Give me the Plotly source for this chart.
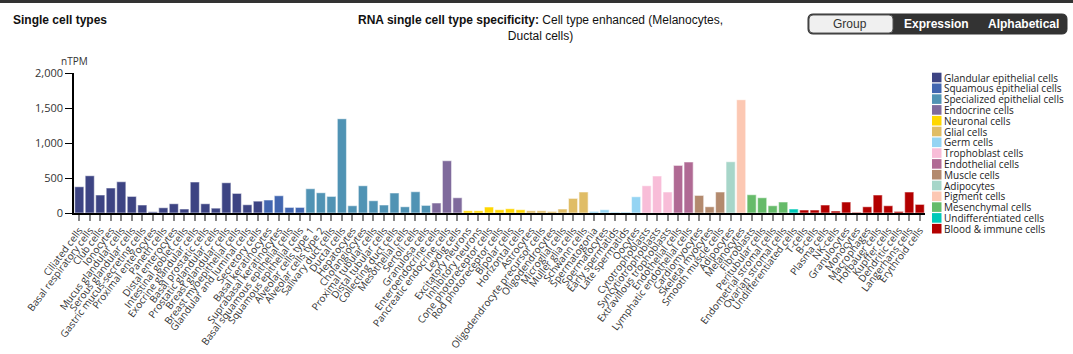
import plotly.graph_objects as go

# ---------------- data ----------------
group_names = [
    "Glandular epithelial cells", "Squamous epithelial cells", "Specialized epithelial cells",
    "Endocrine cells", "Neuronal cells", "Glial cells", "Germ cells", "Trophoblast cells",
    "Endothelial cells", "Muscle cells", "Adipocytes", "Pigment cells",
    "Mesenchymal cells", "Undifferentiated cells", "Blood & immune cells",
]
group_colors = [
    "#3d4483", "#4266b0", "#5093b4", "#7f6a9c", "#ffd700", "#e0bd66", "#95d4f3", "#f8bdd8",
    "#b06a94", "#b38a6e", "#a7d6c9", "#fcc8b3", "#66bb6a", "#00c9b8", "#b30000",
]

cells_glandular = ["Ciliated cells", "Basal respiratory cells", "Club cells", "Ionocytes",
                   "Mucus glandular cells", "Serous glandular cells", "Gastric mucus-secreting cells",
                   "Proximal enterocytes", "Paneth cells", "Distal enterocytes", "Intestinal goblet cells",
                   "Exocrine glandular cells", "Basal prostatic cells", "Prostatic glandular cells",
                   "Breast glandular cells", "Breast myoepithelial cells", "Glandular and luminal cells",
                   "Secretory cells"]
vals_glandular = [376, 533, 257, 357, 448, 238, 114, 19, 76, 133, 57, 443, 133, 71, 433, 281, 119, 171]

cells_squamous = ["Basal keratinocytes", "Suprabasal keratinocytes", "Basal squamous epithelial cells",
                  "Squamous epithelial cells"]
vals_squamous = [186, 248, 81, 81]

cells_specialized = ["Alveolar cells type 1", "Alveolar cells type 2", "Salivary duct cells", "Ductal cells",
                     "Hepatocytes", "Cholangiocytes", "Proximal tubular cells", "Distal tubular cells",
                     "Collecting duct cells", "Mesothelial cells", "Sertoli cells", "Granulosa cells"]
vals_specialized = [348, 290, 238, 1348, 105, 390, 176, 114, 286, 90, 305, 110]

cells_endocrine = ["Enteroendocrine cells", "Pancreatic endocrine cells", "Leydig cells"]
vals_endocrine = [143, 748, 219]

cells_neuronal = ["Excitatory neurons", "Inhibitory neurons", "Cone photoreceptor cells",
                  "Rod photoreceptor cells", "Bipolar cells", "Horizontal cells"]
vals_neuronal = [33, 33, 86, 48, 62, 48]

cells_glial = ["Astrocytes", "Oligodendrocyte precursor cells", "Oligodendrocytes", "Microglial cells",
               "Muller glia cells", "Schwann cells"]
vals_glial = [33, 33, 24, 57, 210, 300]

cells_germ = ["Spermatogonia", "Spermatocytes", "Early spermatids", "Late spermatids", "Oocytes"]
vals_germ = [24, 48, 14, 14, 233]

cells_tropho = ["Cytotrophoblasts", "Syncytiotrophoblasts", "Extravillous trophoblasts"]
vals_tropho = [390, 529, 300]

cells_endo = ["Endothelial cells", "Lymphatic endothelial cells"]
vals_endo = [681, 729]

cells_muscle = ["Cardiomyocytes", "Skeletal myocytes", "Smooth muscle cells"]
vals_muscle = [252, 90, 300]

cells_adipo = ["Adipocytes"]
vals_adipo = [733]

cells_pigment = ["Melanocytes"]
vals_pigment = [1619]

cells_mesen = ["Fibroblasts", "Peritubular cells", "Endometrial stromal cells", "Ovarian stromal cells"]
vals_mesen = [262, 219, 105, 157]

cells_undiff = ["Undifferentiated cells"]
vals_undiff = [57]

cells_blood = ["T-cells", "B-cells", "Plasma cells", "NK-cells", "Granulocytes", "Monocytes",
               "Macrophages", "Hofbauer cells", "Kupffer cells", "Dendritic cells",
               "Langerhans cells", "Erythroid cells"]
vals_blood = [43, 43, 114, 29, 157, 10, 90, 257, 105, 24, 300, 124]

y_ticks = [0, 500, 1000, 1500, 2000]

group_cells = [cells_glandular, cells_squamous, cells_specialized, cells_endocrine, cells_neuronal,
               cells_glial, cells_germ, cells_tropho, cells_endo, cells_muscle, cells_adipo,
               cells_pigment, cells_mesen, cells_undiff, cells_blood]
group_vals = [vals_glandular, vals_squamous, vals_specialized, vals_endocrine, vals_neuronal,
              vals_glial, vals_germ, vals_tropho, vals_endo, vals_muscle, vals_adipo,
              vals_pigment, vals_mesen, vals_undiff, vals_blood]

# ---------------- layout geometry (pixels) ----------------
W, H = 1073, 354
L, R, T, B = 74, 925, 73, 213


def px(x):
    return (x - L) / (R - L)


def py(y):
    return (B - y) / (B - T)


all_cells = [c for g in group_cells for c in g]

fig = go.Figure()
for name, color, cells, vals in zip(group_names, group_colors, group_cells, group_vals):
    fig.add_trace(go.Bar(
        x=cells, y=vals, name=name, showlegend=False,
        marker=dict(color=color, line=dict(color="rgba(255,255,255,0.55)", width=1.2)),
        hovertemplate="%{x}: %{y} nTPM<extra></extra>",
    ))

shapes = []
annotations = []
sans = "Open Sans, Noto Sans, sans-serif"

# manual legend
lx, ly0, step = 932, 77.5, 10.8
for i, (name, color) in enumerate(zip(group_names, group_colors)):
    yc = ly0 + i * step
    shapes.append(dict(type="rect", xref="paper", yref="paper",
                       x0=px(lx), x1=px(lx + 9.5), y0=py(yc + 4.8), y1=py(yc - 4.8),
                       fillcolor=color, line=dict(width=0)))
    annotations.append(dict(text=name, xref="paper", yref="paper", x=px(lx + 10), y=py(yc),
                            xanchor="left", yanchor="middle", showarrow=False,
                            font=dict(family=sans, size=10, color="#222")))

# top dark band
shapes.append(dict(type="rect", xref="paper", yref="paper", x0=px(0), x1=px(W), y0=py(0), y1=py(3),
                   fillcolor="#333333", line=dict(width=0)))


def rrect(x0, y0, x1, y1, r):
    pts = (f"M {px(x0 + r)} {py(y0)} L {px(x1 - r)} {py(y0)} Q {px(x1)} {py(y0)} {px(x1)} {py(y0 + r)} "
           f"L {px(x1)} {py(y1 - r)} Q {px(x1)} {py(y1)} {px(x1 - r)} {py(y1)} "
           f"L {px(x0 + r)} {py(y1)} Q {px(x0)} {py(y1)} {px(x0)} {py(y1 - r)} "
           f"L {px(x0)} {py(y0 + r)} Q {px(x0)} {py(y0)} {px(x0 + r)} {py(y0)} Z")
    return pts


shapes.append(dict(type="path", xref="paper", yref="paper", path=rrect(808, 14, 1067, 34, 5),
                   fillcolor="#333333", line=dict(color="#333333", width=1)))
shapes.append(dict(type="path", xref="paper", yref="paper", path=rrect(809, 15, 893, 33, 4),
                   fillcolor="#f0f0f0", line=dict(color="#555555", width=1)))

btn_font = "Arial, Liberation Sans, sans-serif"
annotations.append(dict(text="Group", xref="paper", yref="paper", x=px(850), y=py(24),
                        xanchor="center", yanchor="middle", showarrow=False,
                        font=dict(family=btn_font, size=12, color="#333")))
annotations.append(dict(text="<b>Expression</b>", xref="paper", yref="paper", x=px(937), y=py(24),
                        xanchor="center", yanchor="middle", showarrow=False,
                        font=dict(family=btn_font, size=12, color="white")))
annotations.append(dict(text="<b>Alphabetical</b>", xref="paper", yref="paper", x=px(1023), y=py(24),
                        xanchor="center", yanchor="middle", showarrow=False,
                        font=dict(family=btn_font, size=12, color="white")))

annotations.append(dict(text="<b>Single cell types</b>", xref="paper", yref="paper", x=px(11), y=py(20),
                        xanchor="left", yanchor="middle", showarrow=False,
                        font=dict(family=btn_font, size=12, color="#111")))
annotations.append(dict(text="<b>RNA single cell type specificity:</b> Cell type enhanced (Melanocytes,<br>Ductal cells)",
                        xref="paper", yref="paper", x=px(540), y=py(11), align="center",
                        xanchor="center", yanchor="top", showarrow=False,
                        font=dict(family=btn_font, size=12, color="#111")))
annotations.append(dict(text="nTPM", xref="paper", yref="paper", x=px(74), y=py(61),
                        xanchor="center", yanchor="middle", showarrow=False,
                        font=dict(family=sans, size=10, color="#333")))

fig.update_layout(
    width=W, height=H,
    margin=dict(l=L, r=W - R, t=T, b=H - B, pad=0),
    paper_bgcolor="white", plot_bgcolor="white",
    barmode="overlay", bargap=0.12,
    shapes=shapes, annotations=annotations,
    xaxis=dict(categoryorder="array", categoryarray=all_cells, range=[-0.5, len(all_cells) - 0.5],
               tickmode="linear", tick0=0, dtick=1, automargin=False,
               showgrid=False, showline=True, linecolor="black", linewidth=1.5,
               ticks="outside", ticklen=6, tickwidth=2, tickcolor="#888",
               tickangle=-53, tickfont=dict(family=sans, size=10, color="#333"),
               fixedrange=True),
    yaxis=dict(range=[0, 2000], tickvals=y_ticks, tickformat=",", showgrid=False, zeroline=False,
               automargin=False,
               showline=True, linecolor="black", linewidth=1.5, ticks="outside", ticklen=7,
               tickcolor="black", tickfont=dict(family=sans, size=11, color="#333"),
               fixedrange=True),
    font=dict(family=sans),
)

fig.write_html("out.html")
